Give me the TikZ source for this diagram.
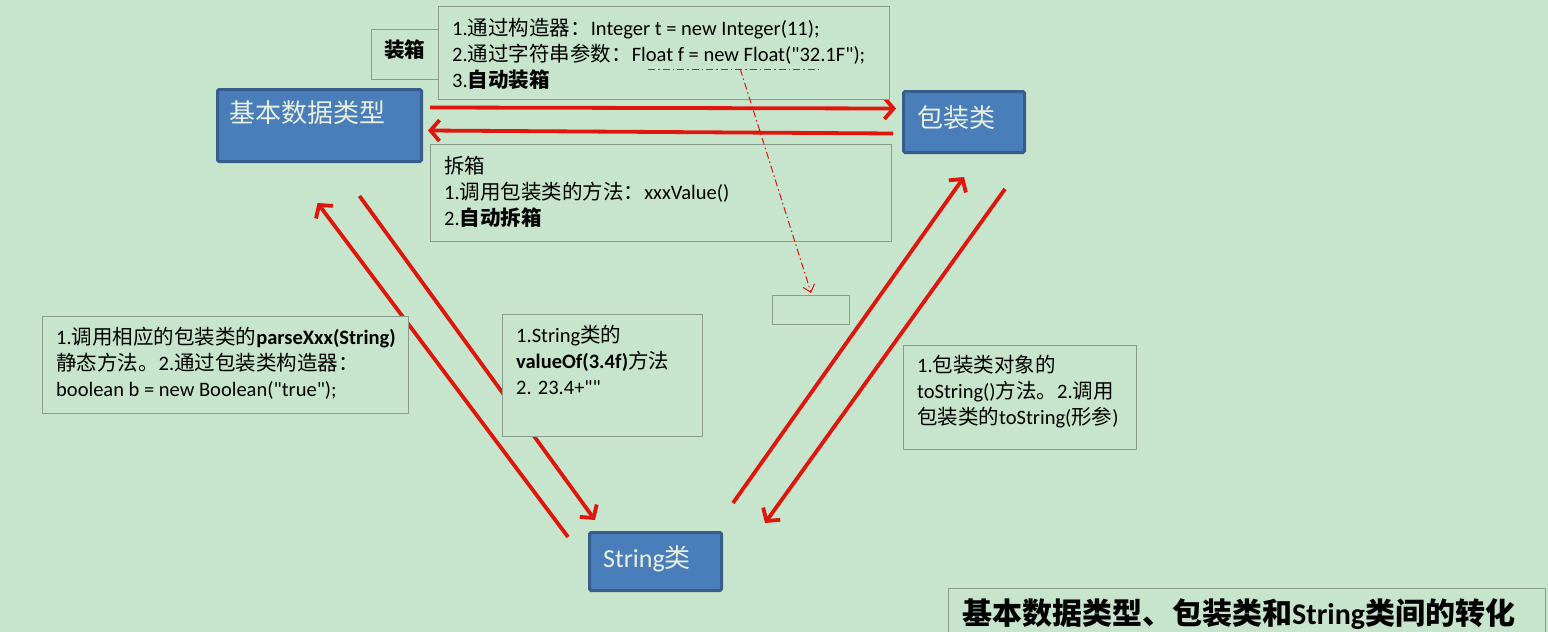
\documentclass[tikz,border=0pt]{standalone}
\usepackage{fontspec}
\setmainfont{Carlito}[Ligatures=TeXOff]
\newfontfamily\cjk{Noto Sans CJK SC}
\usetikzlibrary{arrows.meta,calc}
\definecolor{bg}{RGB}{199,228,204}
\definecolor{bluefill}{RGB}{74,126,187}
\definecolor{blueedge}{RGB}{56,93,138}
\definecolor{bluetext}{RGB}{232,240,222}
\definecolor{boxedge}{RGB}{138,156,142}
\definecolor{arrred}{RGB}{222,22,12}
\newcommand{\zh}[1]{{\cjk #1}}
\begin{document}
\begin{tikzpicture}[x=1pt,y=-1pt,
  bluebox/.style={draw=blueedge, line width=3pt, fill=bluefill, rounded corners=1.5pt, inner sep=0pt, anchor=north west},
  tbox/.style={draw=boxedge, line width=1.2pt, fill=bg, inner sep=0pt, anchor=north west},
  txt/.style={inner sep=0pt, anchor=north west, align=left, font=\fontsize{20.5}{26}\selectfont},
  bluetxt/.style={inner sep=0pt, anchor=base west, text=bluetext, font=\fontsize{26}{30}\selectfont},
  redarr/.style={draw=arrred, line width=3.8pt, -{Straight Barb[length=9pt,width=21pt]}},
  dasharr/.style={draw=arrred, line width=1pt, dash pattern=on 7pt off 3pt on 1.5pt off 3pt}
]
\useasboundingbox (0,0) rectangle (1548,632);
\clip (0,0) rectangle (1548,632);
\fill[bg] (0,0) rectangle (1548,632);

% main nodes
\node[bluebox, minimum width=204pt, minimum height=72pt] (bdt) at (216,88) {};
\node[bluebox, minimum width=121pt, minimum height=61pt] (bzl) at (902,90) {};
\node[bluebox, minimum width=132pt, minimum height=58pt] (str) at (588,531) {};
\node[bluetxt] (bdtlbl) at (229,122) {\zh{基本数据类型}};
\node[bluetxt] (bzllbl) at (917,127) {\zh{包装类}};
\node[bluetxt] (strlbl) at (603,567) {String\zh{类}};

% red arrows
\draw[redarr] ($(bdt.east)+(7,-18)$) -- ($(bzl.west)+(-6,-13.5)$);
\draw[redarr] ($(bzl.west)+(-9,11.5)$) -- ($(bdt.east)+(5,5)$);
\draw[redarr] ($(str.north west)+(-20,6)$) -- ($(bdt.south)+(-2,40)$);
\draw[redarr] ($(bdt.south)+(40,33)$) -- ($(str.north west)+(7,-11)$);
\draw[redarr] ($(str.north east)+(10,-28)$) -- ($(bzl.south)+(0,23)$);
\draw[redarr] ($(bzl.south)+(41,35)$) -- ($(str.north east)+(42,-8)$);

% text boxes
\node[tbox, minimum width=70pt, minimum height=50pt] (zxbox) at (371,29) {};
\node[inner sep=0pt, anchor=base west, font=\fontsize{20.5}{26}\selectfont\bfseries] (zxlbl) at (384,57.5) {\zh{装箱}};
\node[tbox, minimum width=451pt, minimum height=93pt] (topbox) at (438,6) {};
\node[txt] (toptxt) at (452,17) {\strut 1.\zh{通过构造器：}Integer t = new Integer(11);\\
2.\zh{通过字符串参数：}Float f = new Float("32.1F");\\
3.\textbf{\zh{自动装箱}}};

\node[tbox, minimum width=461pt, minimum height=97pt] (cxbox) at (430,144) {};
\node[txt] (cxtxt) at (444,155) {\strut\zh{拆箱}\\
1.\zh{调用包装类的方法：}xxxValue()\\
2.\textbf{\zh{自动拆箱}}};

\node[tbox, minimum width=77pt, minimum height=29pt] (emptybox) at (772,295) {};

\node[tbox, minimum width=366pt, minimum height=97pt] (lbox) at (42,316) {};
\node[txt] (ltxt) at (56,326) {\strut 1.\zh{调用相应的包装类的}\textbf{parseXxx(String)}\\
\zh{静态方法。}2.\zh{通过包装类构造器：}\\
boolean b = new Boolean("true");};

\node[tbox, minimum width=200pt, minimum height=122pt] (mbox) at (502,314) {};
\node[txt] (mtxt) at (516,324) {\strut 1.String\zh{类的}\\
\textbf{valueOf(3.4f)}\zh{方法}\\
2. 23.4+""};

\node[tbox, minimum width=233pt, minimum height=104pt] (rbox) at (903,345) {};
\node[txt] (rtxt) at (917,354) {\strut 1.\zh{包装类对象的}\\
toString()\zh{方法。}2.\zh{调用}\\
\zh{包装类的}toString(\zh{形参})};

\node[tbox, minimum width=597pt, minimum height=60pt] (titlebox) at (948,588) {};
\node[inner sep=0pt, anchor=base west, font=\fontsize{30}{34}\selectfont\bfseries] (titletxt) at (962,624.5) {\zh{基本数据类型、包装类和}String\zh{类间的转化}};

% dash-dot underline and arrow
\coordinate (ul1) at (648,69);
\coordinate (ul2) at (822,69);
\draw[dasharr] (ul1) -- (ul2);
\draw[dasharr, -{Straight Barb[length=7pt,width=12pt]}] ($(ul1)!0.53!(ul2)$) -- ($(emptybox.north)+(0,-2)$);
\end{tikzpicture}
\end{document}
